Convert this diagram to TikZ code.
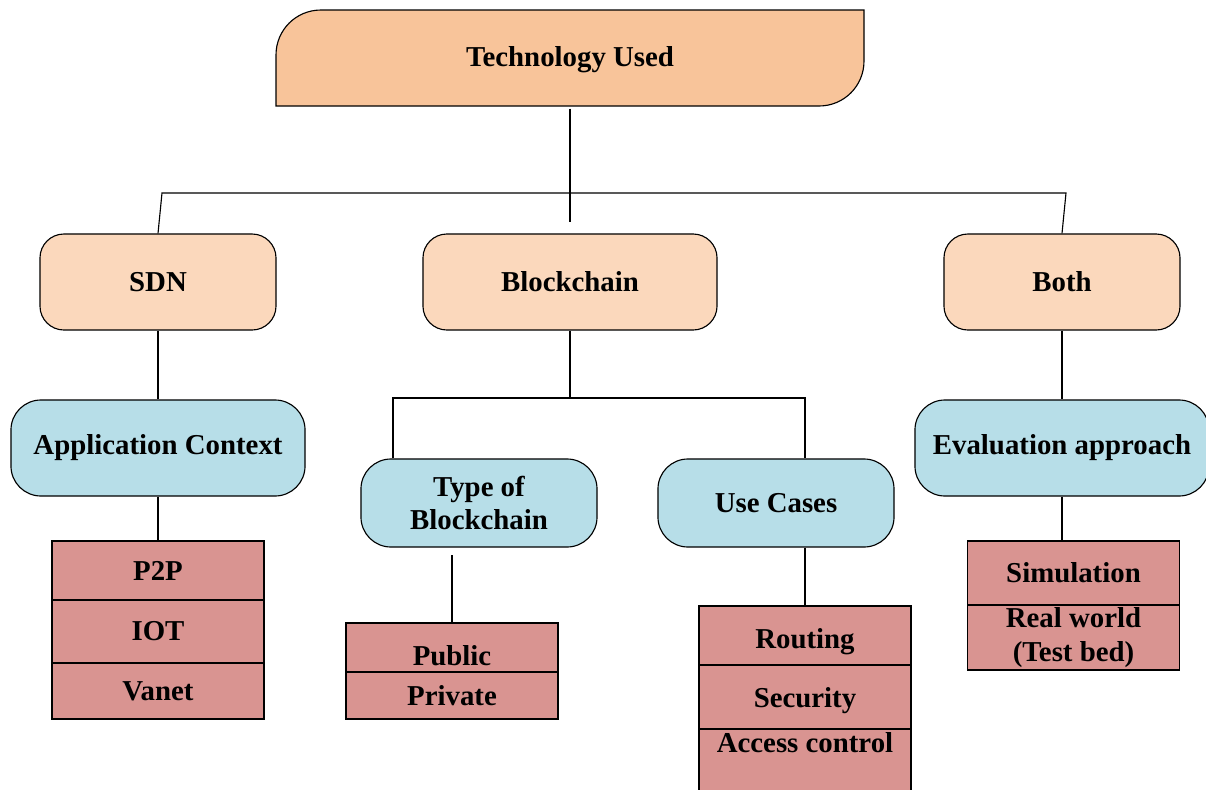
\documentclass[tikz,border=0pt]{standalone}
\usepackage{fontspec}
\setmainfont{Liberation Serif}
\usetikzlibrary{positioning}
\definecolor{techfill}{RGB}{248,196,154}
\definecolor{catfill}{RGB}{251,216,188}
\definecolor{subfill}{RGB}{183,222,232}
\definecolor{itemfill}{RGB}{217,148,145}

\begin{document}
\begin{tikzpicture}[
        x=0.025cm, y=-0.025cm,
        every node/.style={font=\bfseries\fontsize{20.5}{24}\selectfont, align=center, line width=0.8pt},
        catbox/.style={draw, fill=catfill, rounded corners=0.6cm, minimum width=5.9cm, minimum height=2.4cm},
        subbox/.style={draw, fill=subfill, rounded corners=0.75cm, minimum width=5.9cm, minimum height=2.4cm},
        itembox/.style={draw, fill=itemfill, minimum width=5.3cm, outer sep=0pt},
        link/.style={line width=0.8pt}
    ]
    \useasboundingbox (0,0) rectangle (1206,790);

    % Root
    \draw[link, fill=techfill] (276,106) -- (276,55) .. controls (276,30) and (296,10) .. (321,10)
        -- (864,10) -- (864,61) .. controls (864,86) and (844,106) .. (819,106) -- cycle;
    \node (tech) [minimum width=14.7cm, minimum height=2.4cm] at (570,60) {Technology Used};

    % Categories
    \node[catbox] (sdn) at (158,282) {SDN};
    \node[catbox, minimum width=7.35cm] (chain) at (570,282) {Blockchain};
    \node[catbox] (both) at (1062,282) {Both};

    % Sub topics
    \node[subbox, minimum width=7.35cm] (appctx) at (158,448) {Application Context};
    \node[subbox, minimum height=2.2cm] (typebc) at (479,503) {Type of\\Blockchain};
    \node[subbox, minimum height=2.2cm] (usecase) at (776,503) {Use Cases};
    \node[subbox, minimum width=7.35cm] (evalap) at (1062,448) {Evaluation approach};

    % Items
    \node[itembox, minimum height=1.475cm, anchor=north] (p2p) at (158,541) {P2P};
    \node[itembox, minimum height=1.575cm, below=0pt of p2p] (iot) {IOT};
    \node[itembox, minimum height=1.4cm, below=0pt of iot] (vanet) {Vanet};

    \node[itembox, inner sep=0pt, text height=1.05cm, text depth=0.175cm, anchor=north] (public) at (452,623) {Public};
    \node[itembox, minimum height=1.175cm, below=0pt of public] (private) {Private};

    \node[itembox, inner sep=0pt, text height=1.05cm, text depth=0.425cm, anchor=north] (routing) at (805,606) {Routing};
    \node[itembox, inner sep=0pt, text height=1.05cm, text depth=0.55cm, below=0pt of routing] (security) {Security};
    \node[itembox, inner sep=0pt, text height=0.575cm, text depth=1.2cm, below=0pt of security] (access) {Access control};

    \node[itembox, minimum height=1.6cm, anchor=north] (sim) at (1073.5,541) {Simulation};
    \node[itembox, inner ysep=1pt, minimum height=1.625cm, below=0pt of sim] (realw) {Real world\\(Test bed)};

    % Connectors
    \coordinate (techend) at (570,222);
    \coordinate (busL) at (162,193);
    \coordinate (busR) at (1066,193);
    \coordinate (split) at (570,398);
    \coordinate (splitL) at (393,398);
    \coordinate (splitR) at (805,398);
    \coordinate (typegap) at (452,555);

    \draw[link] (tech.south) -- (techend);
    \draw[link] (sdn.north) -- (busL) -- (busR) -- (both.north);
    \draw[link] (sdn) -- (appctx);
    \draw[link] (both) -- (evalap);
    \draw[link] (appctx) -- (p2p);
    \draw[link] (chain.south) -- (split);
    \draw[link] (splitL |- typebc.north) -- (splitL) -- (splitR) -- (splitR |- usecase.north);
    \draw[link] (typegap) -- (public);
    \draw[link] (usecase.south -| routing.north) -- (routing);
    \draw[link] (evalap.south) -- (evalap.south |- sim.north);

\end{tikzpicture}
\end{document}
